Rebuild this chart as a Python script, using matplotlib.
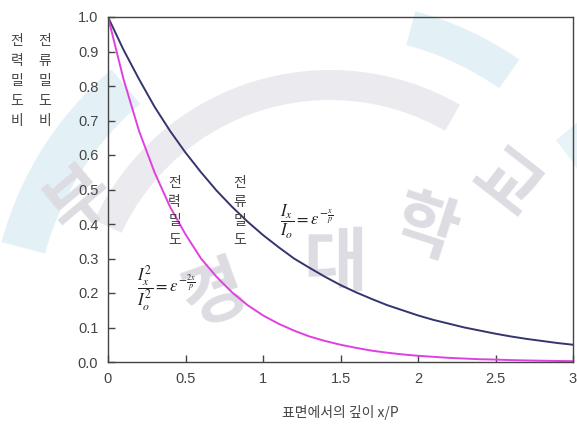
import numpy as np
import matplotlib
matplotlib.use("Agg")
import matplotlib.pyplot as plt
from matplotlib.patches import Wedge

plt.rcParams['font.family'] = ['Liberation Sans', 'Noto Sans CJK KR', 'DejaVu Sans']
plt.rcParams['mathtext.fontset'] = 'stix'

# depth x/P and the two density ratios
depth = [0.0, 0.1, 0.2, 0.3, 0.4, 0.5, 0.6, 0.7, 0.8, 0.9, 1.0,
         1.1, 1.2, 1.3, 1.4, 1.5, 1.6, 1.7, 1.8, 1.9, 2.0,
         2.1, 2.2, 2.3, 2.4, 2.5, 2.6, 2.7, 2.8, 2.9, 3.0]
current_ratio = [1.00, 0.905, 0.82, 0.74, 0.67, 0.607, 0.55, 0.497, 0.45, 0.407, 0.368,
                 0.333, 0.30, 0.273, 0.247, 0.223, 0.202, 0.183, 0.165, 0.15, 0.135,
                 0.122, 0.111, 0.10, 0.091, 0.082, 0.074, 0.067, 0.061, 0.055, 0.05]
power_ratio = [1.00, 0.82, 0.67, 0.55, 0.45, 0.37, 0.30, 0.247, 0.202, 0.165, 0.135,
               0.111, 0.091, 0.074, 0.061, 0.05, 0.041, 0.033, 0.027, 0.022, 0.018,
               0.015, 0.012, 0.01, 0.008, 0.007, 0.0055, 0.0045, 0.0037, 0.003, 0.0025]

x_ticks = [0, 0.5, 1, 1.5, 2, 2.5, 3]
x_tick_labels = ['0', '0.5', '1', '1.5', '2', '2.5', '3']
y_ticks = [0.0, 0.1, 0.2, 0.3, 0.4, 0.5, 0.6, 0.7, 0.8, 0.9, 1.0]

W, H = 577, 424
fig = plt.figure(figsize=(W / 100, H / 100), dpi=100)

# faint university seal in the background
bg = fig.add_axes([0, 0, 1, 1], zorder=0)
bg.set_xlim(0, W)
bg.set_ylim(H, 0)
bg.axis('off')
bg.add_patch(Wedge((330, 330), 340, 195, 230, width=45, color='#e3f1f6', lw=0))
bg.add_patch(Wedge((330, 330), 330, 285, 305, width=35, color='#e3f1f6', lw=0))
bg.add_patch(Wedge((330, 330), 330, 320, 345, width=35, color='#e6f3f7', lw=0))
bg.add_patch(Wedge((330, 330), 260, 205, 300, width=30, color='#ebebef', lw=0))
seal = [('부', 80, 200, 40), ('경', 215, 295, 20), ('대', 335, 265, 0),
        ('학', 425, 230, -18), ('교', 505, 185, -38)]
for ch, px, py, rot in seal:
    bg.text(px, py, ch, fontsize=50, fontweight='bold', color='#dcdce2',
            family=['Noto Sans CJK KR'], ha='center', va='center', rotation=rot)

ax = fig.add_axes([108 / W, 1 - 362 / H, 465 / W, 345 / H], zorder=1)
ax.patch.set_alpha(0)

ax.plot(depth, current_ratio, color='#34346e', lw=1.4)
ax.plot(depth, power_ratio, color='#e040e0', lw=1.4)

ax.set_xlim(0, 3)
ax.set_ylim(0, 1.0)
ax.set_xticks(x_ticks)
ax.set_xticklabels(x_tick_labels)
ax.set_yticks(y_ticks)
ax.set_yticklabels(['%.1f' % v for v in y_ticks])
ax.tick_params(direction='in', length=5, width=1, color='#444444',
               labelsize=10.5, labelcolor='#444444', pad=7)
for s in ax.spines.values():
    s.set_color('#444444')
    s.set_linewidth(1)

ax.set_xlabel('표면에서의 깊이 x/P', fontsize=10, color='#444444', labelpad=14,
              family=['Noto Sans CJK KR'])

# vertical axis titles, one syllable per line
fig.text(17 / W, 1 - 81 / H, '\n'.join('전력밀도비'), fontsize=10, color='#444444',
         ha='center', va='center', linespacing=1.55, family=['Noto Sans CJK KR'])
fig.text(45 / W, 1 - 81 / H, '\n'.join('전류밀도비'), fontsize=10, color='#444444',
         ha='center', va='center', linespacing=1.55, family=['Noto Sans CJK KR'])

# curve labels inside the plot
ax.text(0.43, 0.437, '\n'.join('전력밀도'), fontsize=10, color='#444444',
        ha='center', va='center', linespacing=1.45, family=['Noto Sans CJK KR'])
ax.text(0.85, 0.437, '\n'.join('전류밀도'), fontsize=10, color='#444444',
        ha='center', va='center', linespacing=1.45, family=['Noto Sans CJK KR'])

ax.text(1.11, 0.406, r'$\dfrac{I_x}{I_o}=\varepsilon^{-\frac{x}{p}}$', fontsize=12,
        color='#222222', ha='left', va='center')
ax.text(0.19, 0.214, r'$\dfrac{I_x^2}{I_o^2}=\varepsilon^{-\frac{2x}{p}}$', fontsize=12,
        color='#222222', ha='left', va='center')

fig.savefig('out.png', dpi=100)
